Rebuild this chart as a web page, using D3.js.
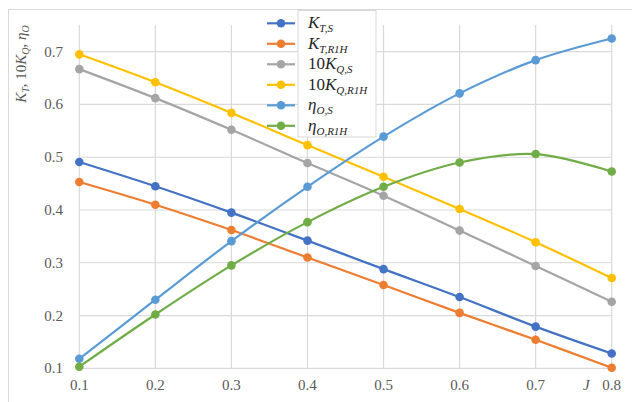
<!DOCTYPE html>
<html><head><meta charset="utf-8">
<script src="https://cdn.jsdelivr.net/npm/d3@7"></script>
<style>body{margin:0;background:#fff}svg{display:block}</style>
</head><body>
<script>
const J = [0.1, 0.2, 0.3, 0.4, 0.5, 0.6, 0.7, 0.8];
const KT_S   = [0.491, 0.445, 0.395, 0.342, 0.288, 0.235, 0.179, 0.128];
const KT_RIH = [0.453, 0.410, 0.362, 0.310, 0.258, 0.205, 0.154, 0.101];
const KQ10_S = [0.667, 0.612, 0.552, 0.489, 0.427, 0.361, 0.294, 0.226];
const KQ10_RIH = [0.695, 0.642, 0.584, 0.523, 0.463, 0.402, 0.339, 0.271];
const ETA_S  = [0.118, 0.230, 0.341, 0.444, 0.539, 0.621, 0.684, 0.725];
const ETA_RIH = [0.103, 0.202, 0.295, 0.377, 0.444, 0.490, 0.506, 0.473];
const xTicks = [0.1, 0.2, 0.3, 0.4, 0.5, 0.6, 0.7, 0.8];
const yTicks = [0.1, 0.2, 0.3, 0.4, 0.5, 0.6, 0.7];

const series = [
  {v: KT_S, c: "#4472C4", main: "K", sub: "T,S"},
  {v: KT_RIH, c: "#ED7D31", main: "K", sub: "T,R1H"},
  {v: KQ10_S, c: "#A5A5A5", pre: "10", main: "K", sub: "Q,S"},
  {v: KQ10_RIH, c: "#FFC000", pre: "10", main: "K", sub: "Q,R1H"},
  {v: ETA_S, c: "#5B9BD5", main: "η", sub: "O,S"},
  {v: ETA_RIH, c: "#70AD47", main: "η", sub: "O,R1H"}
];

const W = 632, H = 402;
const svg = d3.select("body").append("svg").attr("width", W).attr("height", H);
const serif = "'Liberation Serif','Times New Roman',serif";

// outer chart border (cropped)
svg.append("rect").attr("x", 8.5).attr("y", 9.5).attr("width", 640).attr("height", 420)
  .attr("fill", "none").attr("stroke", "#d9d9d9").attr("stroke-width", 1);

const x = d3.scaleLinear().domain([0.1, 0.8]).range([79.3, 611.7]);
const y = d3.scaleLinear().domain([0.1, 0.7]).range([368.3, 51.7]);
const yTop = 0.7506;

// gridlines
const g = svg.append("g");
g.selectAll(".hg").data(yTicks).join("line")
  .attr("x1", x(0.1)).attr("x2", x(0.8))
  .attr("y1", d => y(d)).attr("y2", d => y(d))
  .attr("stroke", "#d9d9d9").attr("stroke-width", 1.2);
g.selectAll(".vg").data(xTicks).join("line")
  .attr("x1", d => x(d)).attr("x2", d => x(d))
  .attr("y1", y(yTop)).attr("y2", y(0.1))
  .attr("stroke", "#d9d9d9").attr("stroke-width", 1.2);

// tick labels
svg.append("g").selectAll("text").data(yTicks).join("text")
  .attr("x", 63).attr("y", d => y(d) + 5)
  .attr("text-anchor", "end").attr("font-family", serif).attr("font-size", 15)
  .attr("fill", "#595959").text(d => d3.format(".1f")(d));
svg.append("g").selectAll("text").data(xTicks).join("text")
  .attr("x", d => x(d)).attr("y", 390)
  .attr("text-anchor", "middle").attr("font-family", serif).attr("font-size", 15)
  .attr("fill", "#595959").text(d => d3.format(".1f")(d));

// axis titles
svg.append("text").attr("x", 583).attr("y", 390).attr("font-family", serif)
  .attr("font-size", 15).attr("font-style", "italic").attr("fill", "#595959").text("J");

const yt = svg.append("text").attr("transform", "translate(26,64) rotate(-90)")
  .attr("text-anchor", "middle").attr("font-family", serif).attr("font-size", 15)
  .attr("fill", "#595959");
yt.append("tspan").attr("font-style", "italic").text("K");
yt.append("tspan").attr("font-size", 10).attr("dy", 3).attr("font-style", "italic").text("T");
yt.append("tspan").attr("dy", -3).text(", 10");
yt.append("tspan").attr("font-style", "italic").text("K");
yt.append("tspan").attr("font-size", 10).attr("dy", 3).attr("font-style", "italic").text("Q");
yt.append("tspan").attr("dy", -3).text(", ");
yt.append("tspan").attr("font-style", "italic").text("η");
yt.append("tspan").attr("font-size", 10).attr("dy", 3).attr("font-style", "italic").text("O");

// series
const line = d3.line().x((d, i) => x(J[i])).y(d => y(d)).curve(d3.curveCatmullRom.alpha(0.5));
series.forEach(s => {
  svg.append("path").attr("d", line(s.v)).attr("fill", "none")
    .attr("stroke", s.c).attr("stroke-width", 2.2).attr("stroke-linejoin", "round");
  svg.append("g").selectAll("circle").data(s.v).join("circle")
    .attr("cx", (d, i) => x(J[i])).attr("cy", d => y(d)).attr("r", 4.3).attr("fill", s.c);
});

// legend
const lg = svg.append("g");
lg.append("rect").attr("x", 298).attr("y", 10.5).attr("width", 78).attr("height", 126.5)
  .attr("fill", "#fff").attr("stroke", "#d9d9d9").attr("stroke-width", 1);
const rowY = i => 23.3 + i * 20.5;
series.forEach((s, i) => {
  lg.append("line").attr("x1", 267).attr("x2", 295).attr("y1", rowY(i)).attr("y2", rowY(i))
    .attr("stroke", s.c).attr("stroke-width", 2.2);
  lg.append("circle").attr("cx", 281).attr("cy", rowY(i)).attr("r", 4.3).attr("fill", s.c);
  const t = lg.append("text").attr("x", 308).attr("y", rowY(i) + 5)
    .attr("font-family", serif).attr("font-size", 17).attr("fill", "#262626");
  if (s.pre) t.append("tspan").text(s.pre);
  t.append("tspan").attr("font-style", "italic").text(s.main);
  t.append("tspan").attr("font-style", "italic").attr("font-size", 11).attr("dy", 4).text(s.sub);
});
</script>
</body></html>
